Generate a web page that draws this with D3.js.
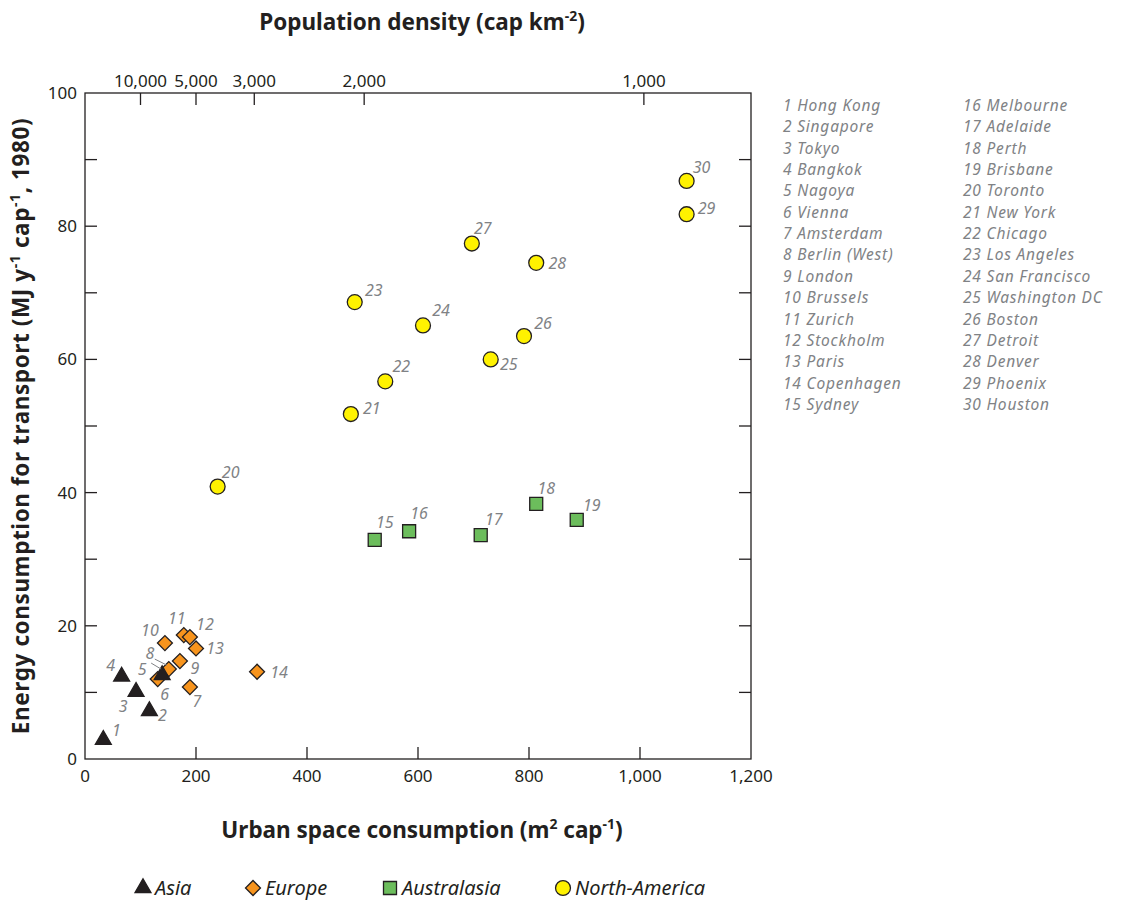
<!DOCTYPE html>
<html>
<head>
<meta charset="utf-8">
<script src="https://cdn.jsdelivr.net/npm/d3@7"></script>
<style>
    body { margin: 0; background: #fff; }
    svg text { font-family: "Noto Sans", sans-serif; }
</style>
</head>
<body>
<svg id="chart" width="1121" height="900"></svg>
<script>

/** City names, listed in their numbered order */
const cities = ["Hong Kong", "Singapore", "Tokyo", "Bangkok", "Nagoya",
    "Vienna", "Amsterdam", "Berlin (West)", "London", "Brussels",
    "Zurich", "Stockholm", "Paris", "Copenhagen", "Sydney",
    "Melbourne", "Adelaide", "Perth", "Brisbane", "Toronto",
    "New York", "Chicago", "Los Angeles", "San Francisco", "Washington DC",
    "Boston", "Detroit", "Denver", "Phoenix", "Houston"];

/** Region of every city (index into regions) */
const regions = ["Asia", "Europe", "Australasia", "North-America"];
const cityRegion = [0, 0, 0, 0, 0,
    1, 1, 1, 1, 1, 1, 1, 1, 1,
    2, 2, 2, 2, 2,
    3, 3, 3, 3, 3, 3, 3, 3, 3, 3, 3];

/** Urban space consumption (m2 per capita) */
const urbanSpace = [33, 116, 92, 66, 139,
    131, 189, 151, 171, 144, 178, 189, 200, 310,
    522, 584, 713, 813, 886,
    239, 479, 541, 486, 609, 731, 791, 697, 813, 1084, 1084];

/** Energy consumption for transport (MJ per year per capita, 1980) */
const energy = [2.9, 7.2, 10.1, 12.4, 12.6,
    12.0, 10.8, 13.5, 14.7, 17.4, 18.6, 18.3, 16.6, 13.1,
    32.9, 34.2, 33.6, 38.3, 35.9,
    40.9, 51.8, 56.7, 68.6, 65.1, 60.0, 63.5, 77.4, 74.5, 81.8, 86.8];

/** Axis ticks */
const xTicks = [0, 200, 400, 600, 800, 1000, 1200];
const yTicks = [0, 10, 20, 30, 40, 50, 60, 70, 80, 90, 100];
const densityLabels = ["10,000", "5,000", "3,000", "2,000", "1,000"];
// where the density ticks sit on the urban space axis
const densityTickAt = [100, 200, 305, 503, 1007];

// label offsets for the city numbers (pixels from the marker)
const labelDx = [13, 13, -13, -11, -20, 7, 7, -19, 15, -15, -7, 15, 19, 22,
    10, 10, 13, 10, 15, 13, 21, 16, 19, 18, 18, 19, 11, 21, 20, 15];
const labelDy = [-10, 4, 14, -11, -6, 15, 14, -16, 7, -13, -17, -13, 0, 0,
    -18, -18, -16, -16, -15, -15, -6, -15, -12, -15, 5, -13, -16, 0, -6, -14];
// small leader lines for crowded labels: city index, start and end offsets
const leaders = [
    {city: 4, from: [-11, -12], to: [-1, -6]},
    {city: 7, from: [-14, -10], to: [-2, -4]}
];

/** Layout */
const margin = {left: 85, right: 370, top: 93, bottom: 141};
const width = 1121, height = 900;

const fills = ["#231f20", "#f7941d", "#6cbd5c", "#fff200"];
const stroke = "#231f20";
const labelColor = "#808285";

let svg = d3.select("#chart");

let xScale = d3.scaleLinear()
    .domain([0, 1200])
    .range([margin.left, width - margin.right]);

let yScale = d3.scaleLinear()
    .domain([0, 100])
    .range([height - margin.bottom, margin.top]);

let x0 = xScale.range()[0], x1 = xScale.range()[1];
let y0 = yScale.range()[0], y1 = yScale.range()[1];
let tickLen = 12;

// Frame
let frame = svg.append("g").attr("stroke", stroke).attr("stroke-width", 1.3).attr("fill", "none");
frame.append("rect")
    .attr("x", x0).attr("y", y1)
    .attr("width", x1 - x0).attr("height", y0 - y1);

// Inward ticks on all four sides
frame.selectAll(".ytickL").data(yTicks.slice(1, -1)).join("line")
    .attr("class", "ytickL")
    .attr("x1", x0).attr("x2", x0 + tickLen)
    .attr("y1", d => yScale(d)).attr("y2", d => yScale(d));
frame.selectAll(".ytickR").data(yTicks.slice(1, -1)).join("line")
    .attr("class", "ytickR")
    .attr("x1", x1).attr("x2", x1 - tickLen)
    .attr("y1", d => yScale(d)).attr("y2", d => yScale(d));
frame.selectAll(".xtickB").data(xTicks.slice(1, -1)).join("line")
    .attr("class", "xtickB")
    .attr("x1", d => xScale(d)).attr("x2", d => xScale(d))
    .attr("y1", y0).attr("y2", y0 - tickLen);
frame.selectAll(".xtickT").data(densityTickAt).join("line")
    .attr("class", "xtickT")
    .attr("x1", d => xScale(d)).attr("x2", d => xScale(d))
    .attr("y1", y1).attr("y2", y1 + tickLen);

// Tick labels
let tickFont = 17;
svg.append("g").selectAll("text")
    .data(yTicks.filter(d => d % 20 === 0)).join("text")
    .attr("x", x0 - 8).attr("y", d => yScale(d) + 6)
    .attr("text-anchor", "end")
    .attr("font-size", tickFont).attr("fill", stroke)
    .text(d => d);

svg.append("g").selectAll("text")
    .data(xTicks).join("text")
    .attr("x", d => xScale(d)).attr("y", y0 + 23)
    .attr("text-anchor", "middle")
    .attr("font-size", tickFont).attr("fill", stroke)
    .text(d => d3.format(",")(d));

svg.append("g").selectAll("text")
    .data(densityTickAt).join("text")
    .attr("x", d => xScale(d)).attr("y", y1 - 6)
    .attr("text-anchor", "middle")
    .attr("font-size", tickFont).attr("fill", stroke)
    .text((d, i) => densityLabels[i]);

// Axis titles (with superscripts)
function title(g, parts) {
    parts.forEach(p => {
        let t = g.append("tspan").text(p[0]);
        if (p[1]) t.attr("baseline-shift", "super").attr("font-size", "62%");
    });
}
let titleFont = 22.5;
let topTitle = svg.append("text")
    .attr("x", 422).attr("y", 30)
    .attr("text-anchor", "middle").attr("font-weight", "bold")
    .attr("font-size", titleFont).attr("fill", stroke);
title(topTitle, [["Population density (cap km"], ["-2", true], [")"]]);

let bottomTitle = svg.append("text")
    .attr("x", 422).attr("y", 838)
    .attr("text-anchor", "middle").attr("font-weight", "bold")
    .attr("font-size", titleFont).attr("fill", stroke);
title(bottomTitle, [["Urban space consumption (m"], ["2", true], [" cap"], ["-1", true], [")"]]);

let leftTitle = svg.append("text")
    .attr("transform", "translate(29," + ((y0 + y1) / 2) + ") rotate(-90)")
    .attr("text-anchor", "middle").attr("font-weight", "bold")
    .attr("letter-spacing", 0.6)
    .attr("font-size", titleFont).attr("fill", stroke);
title(leftTitle, [["Energy consumption for transport (MJ y"], ["-1", true], [" cap"], ["-1", true], [", 1980)"]]);

// Marker shapes per region
let shapes = [
    {type: d3.symbolTriangle, size: 110, rotate: 0},
    {type: d3.symbolSquare, size: 112, rotate: 45},
    {type: d3.symbolSquare, size: 169, rotate: 0},
    {type: d3.symbolCircle, size: 175, rotate: 0}
];

function marker(sel, r) {
    sel.attr("d", d3.symbol().type(shapes[r].type).size(shapes[r].size)())
        .attr("fill", fills[r])
        .attr("stroke", stroke)
        .attr("stroke-width", 1.3);
}

let points = d3.range(cities.length);
// draw europe, australasia, north-america, then asia on top
let drawOrder = [1, 2, 3, 0];
let pointG = svg.append("g");
drawOrder.forEach(r => {
    pointG.selectAll(".pt" + r)
        .data(points.filter(i => cityRegion[i] === r))
        .join("path")
        .attr("class", "pt" + r)
        .attr("transform", i => "translate(" + xScale(urbanSpace[i]) + "," + yScale(energy[i]) + ") rotate(" + shapes[r].rotate + ")")
        .call(marker, r);
});

// Leader lines
svg.append("g").selectAll("line").data(leaders).join("line")
    .attr("x1", d => xScale(urbanSpace[d.city]) + d.from[0])
    .attr("y1", d => yScale(energy[d.city]) + d.from[1])
    .attr("x2", d => xScale(urbanSpace[d.city]) + d.to[0])
    .attr("y2", d => yScale(energy[d.city]) + d.to[1])
    .attr("stroke", labelColor).attr("stroke-width", 1);

// City number labels
svg.append("g").selectAll("text").data(points).join("text")
    .attr("x", i => xScale(urbanSpace[i]) + labelDx[i])
    .attr("y", i => yScale(energy[i]) + labelDy[i])
    .attr("text-anchor", "middle")
    .attr("dominant-baseline", "central")
    .attr("font-style", "italic")
    .attr("font-size", 16)
    .attr("fill", labelColor)
    .text(i => i + 1);

// City list on the right (two columns of 15)
let listG = svg.append("g")
    .attr("font-style", "italic").attr("font-size", 15.5)
    .attr("letter-spacing", 0.8).attr("fill", labelColor);
listG.selectAll("text").data(points).join("text")
    .attr("x", i => i < 15 ? 783 : 963)
    .attr("y", i => 111 + (i % 15) * 21.35)
    .text(i => (i + 1) + " " + cities[i]);

// Region legend at the bottom
let legendX = [143, 253, 390, 563];
let legendG = svg.append("g");
regions.forEach((r, k) => {
    legendG.append("path")
        .attr("transform", "translate(" + legendX[k] + ",888) rotate(" + shapes[k].rotate + ")")
        .call(marker, k);
    legendG.append("text")
        .attr("x", legendX[k] + 12).attr("y", 895)
        .attr("font-style", "italic").attr("font-size", 20).attr("fill", stroke)
        .text(r);
});

</script>
</body>
</html>
